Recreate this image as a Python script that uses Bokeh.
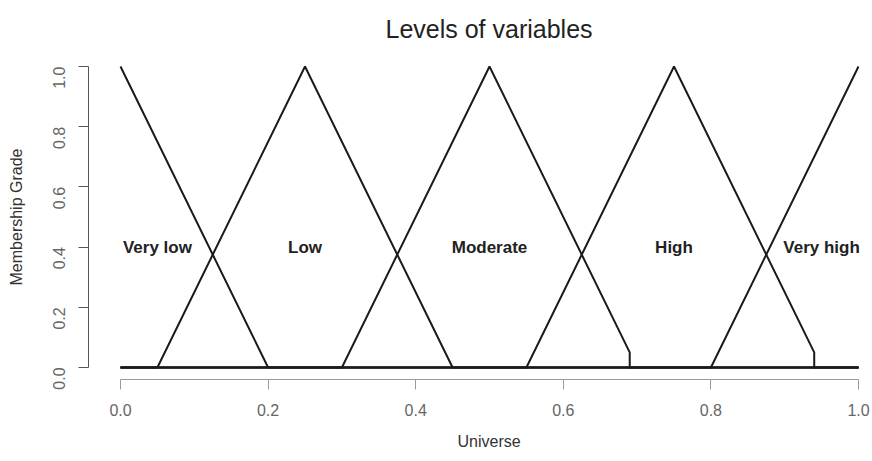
from bokeh.plotting import figure
from bokeh.models import Range1d, FixedTicker, PrintfTickFormatter, Title, ColumnDataSource
from bokeh.core.properties import value
from bokeh.embed import file_html
from bokeh.resources import INLINE
import math

# ---- data ----
title_text = "Levels of variables"
x_label = "Universe"
y_label = "Membership Grade"

level_names = ["Very low", "Low", "Moderate", "High", "Very high"]
label_x = [0.05, 0.25, 0.5, 0.75, 0.95]
label_y = [0.4, 0.4, 0.4, 0.4, 0.4]

very_low_x = [0.0, 0.2, 1.0]
very_low_y = [1.0, 0.0, 0.0]
low_x = [0.0, 0.05, 0.25, 0.45, 1.0]
low_y = [0.0, 0.0, 1.0, 0.0, 0.0]
moderate_x = [0.0, 0.3, 0.5, 0.69, 0.69, 1.0]
moderate_y = [0.0, 0.0, 1.0, 0.05, 0.0, 0.0]
high_x = [0.0, 0.55, 0.75, 0.94, 0.94, 1.0]
high_y = [0.0, 0.0, 1.0, 0.05, 0.0, 0.0]
very_high_x = [0.0, 0.8, 1.0]
very_high_y = [0.0, 0.0, 1.0]

x_ticks = [0.0, 0.2, 0.4, 0.6, 0.8, 1.0]
y_ticks = [0.0, 0.2, 0.4, 0.6, 0.8, 1.0]

FONT = "Liberation Sans"

p = figure(width=872, height=461, output_backend="svg", toolbar_location=None,
           x_range=Range1d(-0.04336, 1.01897), y_range=Range1d(-0.04, 1.04),
           min_border_left=88, min_border_right=0, min_border_top=53,
           min_border_bottom=82)
p.outline_line_color = None
p.xgrid.visible = False
p.ygrid.visible = False
p.background_fill_color = "white"
p.border_fill_color = "white"

curves = [(very_low_x, very_low_y), (low_x, low_y), (moderate_x, moderate_y),
          (high_x, high_y), (very_high_x, very_high_y)]
for cx, cy in curves:
    p.line(cx, cy, line_color="#1a1a1a", line_width=2)

src = ColumnDataSource(dict(x=label_x, y=label_y, t=level_names))
p.text(x="x", y="y", text="t", source=src, text_align="center",
       text_baseline="middle", text_font=value(FONT), text_font_size="17px",
       text_font_style="bold", text_color="#222222")

# x axis
xa = p.xaxis[0]
xa.ticker = FixedTicker(ticks=x_ticks)
xa.formatter = PrintfTickFormatter(format="%.1f")
xa.bounds = (0, 1)
xa.axis_line_color = "#9a9a9a"
xa.major_tick_line_color = "#9a9a9a"
xa.major_tick_out = 10
xa.major_tick_in = 0
xa.minor_tick_line_color = None
xa.major_label_text_font = FONT
xa.major_label_text_font_size = "16px"
xa.major_label_text_color = "#666666"
xa.major_label_standoff = 14

# y axis
ya = p.yaxis[0]
ya.ticker = FixedTicker(ticks=y_ticks)
ya.formatter = PrintfTickFormatter(format="%.1f")
ya.bounds = (0, 1)
ya.axis_line_color = "#555555"
ya.major_tick_line_color = "#555555"
ya.major_tick_out = 10
ya.major_tick_in = 0
ya.minor_tick_line_color = None
ya.major_label_orientation = math.pi / 2
ya.major_label_text_font = FONT
ya.major_label_text_font_size = "16px"
ya.major_label_text_color = "#666666"
ya.major_label_standoff = 19
ya.axis_label = y_label
ya.axis_label_text_font = FONT
ya.axis_label_text_font_size = "16px"
ya.axis_label_text_font_style = "normal"
ya.axis_label_text_color = "#333333"
ya.axis_label_standoff = 20

p.title = Title(text=title_text, align="left", offset=297, standoff=24,
                text_font=FONT, text_font_size="25px", text_font_style="normal",
                text_color="#222222")
p.add_layout(Title(text=x_label, align="left", offset=369, standoff=24,
                   text_font=FONT, text_font_size="16px",
                   text_font_style="normal", text_color="#333333"), "below")

open("out.html", "w").write(file_html(p, INLINE))
